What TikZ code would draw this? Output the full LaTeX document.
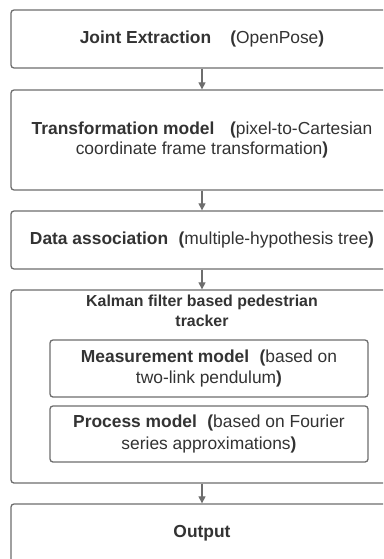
\documentclass[tikz,border=0pt]{standalone}
\usepackage{fontspec}
\setmainfont{Liberation Sans}
\usetikzlibrary{arrows.meta}
\definecolor{edge}{HTML}{6E6E6E}
\definecolor{ink}{HTML}{333333}
\tikzset{
  stage/.style={draw=edge, line width=1.3pt, rounded corners=3pt, fill=white,
    inner sep=0pt, align=center, text=ink, font=\fontsize{17.4}{21.8}\selectfont},
  flow/.style={draw=edge, line width=1.1pt,
    -{Triangle[length=7pt,width=7pt]}},
}
\begin{document}
\begin{tikzpicture}[x=1pt, y=-1pt]
\useasboundingbox (0,0) rectangle (383,559);
\clip (0,0) rectangle (383,559);
\fill[white] (0,0) rectangle (383,559);

% main pipeline stages
\node[stage, minimum width=382pt, minimum height=58pt] (joint) at (202,39)
  {\textbf{Joint Extraction}\hspace{1.1em}\textbf{(}OpenPose\textbf{)}};
\node[stage, minimum width=382pt, minimum height=100pt] (trans) at (202,140)
  {\textbf{Transformation model}\hspace{0.9em}\textbf{(}pixel-to-Cartesian\\[-1pt]
   coordinate frame transformation\textbf{)}};
\node[stage, minimum width=382pt, minimum height=58pt] (assoc) at (202,240)
  {\textbf{Data association}\hspace{0.6em}\textbf{(}multiple-hypothesis tree\textbf{)}};
\node[stage, minimum width=382pt, minimum height=193pt] (kalman) at (202,386.5) {};
\node[stage, anchor=north, font=\fontsize{15.9}{20.5}\selectfont\bfseries]
  (ktitle) at (202,294) [draw=none, fill=none] {Kalman filter based pedestrian\\tracker};
\node[stage, minimum width=318pt, minimum height=57pt] (meas) at (209,368.5)
  {\textbf{Measurement model}\hspace{0.6em}\textbf{(}based on\\two-link pendulum\textbf{)}};
\node[stage, minimum width=318pt, minimum height=56pt] (proc) at (209,434)
  {\textbf{Process model}\hspace{0.6em}\textbf{(}based on Fourier\\series approximations\textbf{)}};
\node[stage, minimum width=382pt, minimum height=58pt] (out) at (202,533)
  {\textbf{Output}};

% connectors
\draw[flow] (joint.south) -- (trans.north);
\draw[flow] (trans.south) -- (assoc.north);
\draw[flow] (assoc.south) -- (kalman.north);
\draw[flow] (kalman.south) -- (out.north);
\end{tikzpicture}
\end{document}
